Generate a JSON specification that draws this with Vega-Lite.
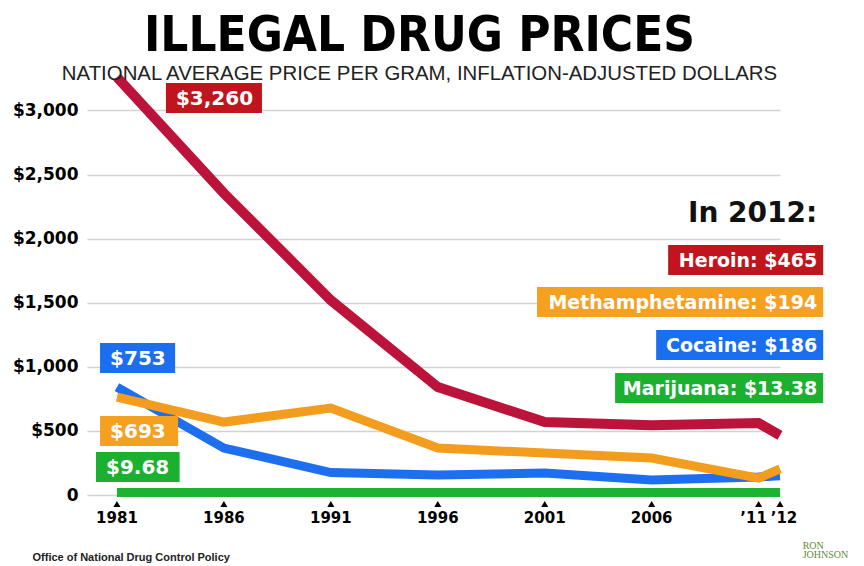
{
  "$schema": "https://vega.github.io/schema/vega-lite/v6.json",
  "width": 693,
  "height": 423,
  "autosize": {"type": "none"},
  "padding": {"left": 87, "top": 72, "right": 84, "bottom": 71},
  "background": "white",
  "config": {"view": {"stroke": null}},
  "title": {
    "text": "ILLEGAL DRUG PRICES",
    "subtitle": "NATIONAL AVERAGE PRICE PER GRAM, INFLATION-ADJUSTED DOLLARS",
    "anchor": "middle",
    "frame": "group",
    "dx": -14,
    "offset": -27,
    "font": "DejaVu Sans Condensed, Liberation Sans, sans-serif",
    "fontWeight": "bold",
    "fontSize": 49,
    "color": "#000000",
    "subtitleFont": "Liberation Sans",
    "subtitleFontSize": 20.4,
    "subtitleColor": "#222222",
    "subtitlePadding": 3
  },
  "datasets": {
    "prices": [
      {"drug": "Marijuana", "year": 1981, "price": 20},
      {"drug": "Marijuana", "year": 1986, "price": 20},
      {"drug": "Marijuana", "year": 1991, "price": 20},
      {"drug": "Marijuana", "year": 1996, "price": 20},
      {"drug": "Marijuana", "year": 2001, "price": 20},
      {"drug": "Marijuana", "year": 2006, "price": 20},
      {"drug": "Marijuana", "year": 2011, "price": 20},
      {"drug": "Marijuana", "year": 2012, "price": 20},
      {"drug": "Cocaine", "year": 1981, "price": 842},
      {"drug": "Cocaine", "year": 1986, "price": 366},
      {"drug": "Cocaine", "year": 1991, "price": 175},
      {"drug": "Cocaine", "year": 1996, "price": 156},
      {"drug": "Cocaine", "year": 2001, "price": 171},
      {"drug": "Cocaine", "year": 2006, "price": 117},
      {"drug": "Cocaine", "year": 2011, "price": 140},
      {"drug": "Cocaine", "year": 2012, "price": 150},
      {"drug": "Methamphetamine", "year": 1981, "price": 764},
      {"drug": "Methamphetamine", "year": 1986, "price": 569},
      {"drug": "Methamphetamine", "year": 1991, "price": 678},
      {"drug": "Methamphetamine", "year": 1996, "price": 366},
      {"drug": "Methamphetamine", "year": 2001, "price": 327},
      {"drug": "Methamphetamine", "year": 2006, "price": 288},
      {"drug": "Methamphetamine", "year": 2011, "price": 132},
      {"drug": "Methamphetamine", "year": 2012, "price": 203},
      {"drug": "Heroin", "year": 1981, "price": 3260},
      {"drug": "Heroin", "year": 1986, "price": 2354},
      {"drug": "Heroin", "year": 1991, "price": 1520},
      {"drug": "Heroin", "year": 1996, "price": 842},
      {"drug": "Heroin", "year": 2001, "price": 569},
      {"drug": "Heroin", "year": 2006, "price": 545},
      {"drug": "Heroin", "year": 2011, "price": 561},
      {"drug": "Heroin", "year": 2012, "price": 465}
    ],
    "ticks": [
      {"year": 1981, "label": "1981"}, {"year": 1986, "label": "1986"},
      {"year": 1991, "label": "1991"}, {"year": 1996, "label": "1996"},
      {"year": 2001, "label": "2001"}, {"year": 2006, "label": "2006"},
      {"year": 2011, "label": "\u201911"}, {"year": 2012, "label": "\u201912"}
    ],
    "boxes": [
      {"drug": "Heroin", "side": "left", "label": "$3,260", "year": 1983.29, "year2": 1987.78, "price": 3214, "price2": 2980},
      {"drug": "Cocaine", "side": "left", "label": "$753", "year": 1980.21, "year2": 1983.72, "price": 1186, "price2": 952},
      {"drug": "Methamphetamine", "side": "left", "label": "$693", "year": 1980.21, "year2": 1983.86, "price": 616, "price2": 382},
      {"drug": "Marijuana", "side": "left", "label": "$9.68", "year": 1980.02, "year2": 1983.93, "price": 335, "price2": 101},
      {"drug": "Heroin", "side": "right", "label": "Heroin: $465", "year": 2006.77, "year2": 2014.02, "price": 1950, "price2": 1716},
      {"drug": "Methamphetamine", "side": "right", "label": "Methamphetamine: $194", "year": 2000.64, "year2": 2014.02, "price": 1623, "price2": 1389},
      {"drug": "Cocaine", "side": "right", "label": "Cocaine: $186", "year": 2006.21, "year2": 2014.02, "price": 1287, "price2": 1053},
      {"drug": "Marijuana", "side": "right", "label": "Marijuana: $13.38", "year": 2004.29, "year2": 2014.02, "price": 952, "price2": 718}
    ],
    "heading": [
      {"label": "In 2012:", "year": 2013.74, "price": 2130}
    ],
    "logo": [
      {"label": "RON", "year": 2013.06, "price": -418},
      {"label": "JOHNSON", "year": 2013.06, "price": -495}
    ]
  },
  "layer": [
    {
      "data": {"name": "prices"},
      "transform": [{"filter": "datum.drug == 'Marijuana'"}],
      "mark": {"type": "line", "color": "#1cb232", "strokeWidth": 9, "clip": false},
      "encoding": {
        "x": {
          "field": "year",
          "type": "quantitative",
          "scale": {"domain": [1979.6, 2012], "nice": false, "zero": false},
          "axis": {
            "values": [1981, 1986, 1991, 1996, 2001, 2006, 2011, 2012],
            "labels": false,
            "grid": false,
            "ticks": false,
            "domain": false,
            "title": "Office of National Drug Control Policy",
            "titleFont": "Liberation Sans",
            "titleFontWeight": "bold",
            "titleFontSize": 11,
            "titleColor": "#222222",
            "titleAlign": "left",
            "titleAnchor": "start",
            "titleBaseline": "middle",
            "titleX": -55,
            "titleY": 62
          }
        },
        "y": {
          "field": "price",
          "type": "quantitative",
          "scale": {"domain": [0, 3300], "nice": false},
          "axis": {
            "values": [0, 500, 1000, 1500, 2000, 2500, 3000],
            "labelExpr": "datum.value == 0 ? '0' : '$' + format(datum.value, ',')",
            "labelFont": "DejaVu Sans",
            "labelFontWeight": "bold",
            "labelFontSize": 17,
            "labelColor": "#000000",
            "labelPadding": 9,
            "ticks": false,
            "domain": false,
            "grid": true,
            "gridColor": "#d2d2d2",
            "gridWidth": 1.5,
            "title": null
          }
        }
      }
    },
    {
      "data": {"name": "prices"},
      "transform": [{"filter": "datum.drug == 'Cocaine'"}],
      "mark": {"type": "line", "color": "#1d6ff0", "strokeWidth": 9},
      "encoding": {
        "x": {"field": "year", "type": "quantitative"},
        "y": {"field": "price", "type": "quantitative"}
      }
    },
    {
      "data": {"name": "prices"},
      "transform": [{"filter": "datum.drug == 'Methamphetamine'"}],
      "mark": {"type": "line", "color": "#f39d1e", "strokeWidth": 9},
      "encoding": {
        "x": {"field": "year", "type": "quantitative"},
        "y": {"field": "price", "type": "quantitative"}
      }
    },
    {
      "data": {"name": "prices"},
      "transform": [{"filter": "datum.drug == 'Heroin'"}],
      "mark": {"type": "line", "color": "#bb1339", "strokeWidth": 10},
      "encoding": {
        "x": {"field": "year", "type": "quantitative"},
        "y": {"field": "price", "type": "quantitative"}
      }
    },
    {
      "data": {"name": "ticks"},
      "mark": {"type": "point", "shape": "triangle-up", "filled": true, "color": "#000000", "opacity": 1, "size": 50, "yOffset": 9},
      "encoding": {
        "x": {"field": "year", "type": "quantitative"},
        "y": {"datum": 0, "type": "quantitative"}
      }
    },
    {
      "data": {"name": "ticks"},
      "transform": [{"filter": "datum.year < 2011"}],
      "mark": {"type": "text", "align": "center", "baseline": "top", "dy": 16, "font": "DejaVu Sans", "fontWeight": "bold", "fontSize": 15, "color": "#000000"},
      "encoding": {
        "x": {"field": "year", "type": "quantitative"},
        "y": {"datum": 0, "type": "quantitative"},
        "text": {"field": "label"}
      }
    },
    {
      "data": {"name": "ticks"},
      "transform": [{"filter": "datum.year == 2011"}],
      "mark": {"type": "text", "align": "center", "baseline": "top", "dx": -5, "dy": 16, "font": "DejaVu Sans", "fontWeight": "bold", "fontSize": 15, "color": "#000000"},
      "encoding": {
        "x": {"field": "year", "type": "quantitative"},
        "y": {"datum": 0, "type": "quantitative"},
        "text": {"field": "label"}
      }
    },
    {
      "data": {"name": "ticks"},
      "transform": [{"filter": "datum.year == 2012"}],
      "mark": {"type": "text", "align": "center", "baseline": "top", "dx": 4, "dy": 16, "font": "DejaVu Sans", "fontWeight": "bold", "fontSize": 15, "color": "#000000"},
      "encoding": {
        "x": {"field": "year", "type": "quantitative"},
        "y": {"datum": 0, "type": "quantitative"},
        "text": {"field": "label"}
      }
    },
    {
      "data": {"name": "boxes"},
      "mark": {"type": "rect", "clip": false},
      "encoding": {
        "x": {"field": "year", "type": "quantitative"},
        "x2": {"field": "year2"},
        "y": {"field": "price", "type": "quantitative"},
        "y2": {"field": "price2"},
        "fill": {
          "field": "drug",
          "type": "nominal",
          "scale": {"domain": ["Heroin", "Methamphetamine", "Cocaine", "Marijuana"], "range": ["#c1151e", "#f5a11f", "#1b6eef", "#1cb030"]},
          "legend": null
        }
      }
    },
    {
      "data": {"name": "boxes"},
      "transform": [{"filter": "datum.side == 'left'"}],
      "mark": {"type": "text", "align": "left", "baseline": "alphabetic", "dx": 10, "dy": 22, "font": "DejaVu Sans", "fontWeight": "bold", "fontSize": 20, "color": "#ffffff"},
      "encoding": {
        "x": {"field": "year", "type": "quantitative"},
        "y": {"field": "price", "type": "quantitative"},
        "text": {"field": "label"}
      }
    },
    {
      "data": {"name": "boxes"},
      "transform": [{"filter": "datum.side == 'right'"}],
      "mark": {"type": "text", "align": "right", "baseline": "alphabetic", "dx": -6, "dy": 22, "font": "DejaVu Sans", "fontWeight": "bold", "fontSize": 19, "color": "#ffffff"},
      "encoding": {
        "x": {"field": "year2", "type": "quantitative"},
        "y": {"field": "price", "type": "quantitative"},
        "text": {"field": "label"}
      }
    },
    {
      "data": {"name": "heading"},
      "mark": {"type": "text", "align": "right", "baseline": "alphabetic", "font": "DejaVu Sans", "fontWeight": "bold", "fontSize": 28, "color": "#111111"},
      "encoding": {
        "x": {"field": "year", "type": "quantitative"},
        "y": {"field": "price", "type": "quantitative"},
        "text": {"field": "label"}
      }
    },
    {
      "data": {"name": "logo"},
      "mark": {"type": "text", "align": "left", "baseline": "alphabetic", "font": "Liberation Serif", "fontSize": 10, "color": "#5f8a3a"},
      "encoding": {
        "x": {"field": "year", "type": "quantitative"},
        "y": {"field": "price", "type": "quantitative"},
        "text": {"field": "label"}
      }
    }
  ]
}
